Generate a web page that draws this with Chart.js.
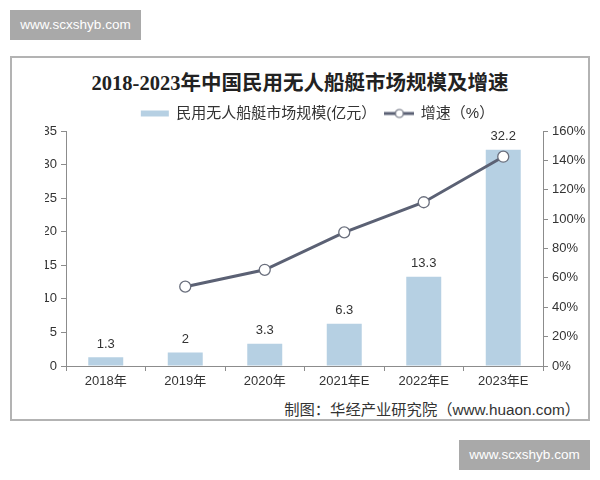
<!DOCTYPE html>
<html>
<head>
<meta charset="utf-8">
<script src="https://cdn.jsdelivr.net/npm/chart.js@4/dist/chart.umd.min.js"></script>
<style>
  html, body { margin: 0; padding: 0; background: #fff; }
  #wrap { position: relative; width: 600px; height: 480px; overflow: hidden; }
  #frame { position: absolute; left: 10px; top: 56px; width: 576px; height: 361px; border: 2px solid #b3b3b3; }
  .mark { position: absolute; width: 131px; height: 30px; background: #a9a9a9; color: #fff;
          font: 13.5px "Liberation Sans", Arial, sans-serif; line-height: 30px; text-align: center; }
  #title { position: absolute; left: 0; width: 600px; top: 70px; text-align: center; color: #222;
           font: bold 20.5px "Liberation Serif", "Noto Sans CJK SC", serif; line-height: 26px; white-space: nowrap; }
  #src { position: absolute; right: 20px; top: 397px; color: #333;
         font: 15.3px "Liberation Sans", "Noto Sans CJK SC", sans-serif; white-space: nowrap; }
  canvas { position: absolute; left: 0; top: 0; }
</style>
</head>
<body>
<div id="wrap">
  <div id="frame"></div>
  <div class="mark" style="left:10px;top:10px;">www.scxshyb.com</div>
  <div class="mark" style="left:459px;top:440px;">www.scxshyb.com</div>
  <div id="title">2018-2023年中国民用无人船艇市场规模及增速</div>
  <div id="src">制图：华经产业研究院（www.huaon.com）</div>
  <canvas id="cht" width="600" height="480"></canvas>
</div>
<script>
var years = ['2018年', '2019年', '2020年', '2021年E', '2022年E', '2023年E'];
var marketSize = [1.3, 2, 3.3, 6.3, 13.3, 32.2];
var growthRate = [null, 54, 65.5, 91, 111.5, 142.5];

var sansFont = '"Liberation Sans", "Noto Sans CJK SC", sans-serif';
var barColour = '#b6d0e3';
var lineColour = '#5b6174';

// little line-with-circle icon for the legend
var lineIcon = document.createElement('canvas');
lineIcon.width = 30; lineIcon.height = 12;
(function () {
    var c = lineIcon.getContext('2d');
    c.strokeStyle = lineColour; c.lineWidth = 3;
    c.beginPath(); c.moveTo(0, 6); c.lineTo(30, 6); c.stroke();
    c.fillStyle = '#fff'; c.strokeStyle = '#6a6f7d'; c.lineWidth = 1.2;
    c.beginPath(); c.arc(15, 6, 4, 0, Math.PI * 2); c.fill(); c.stroke();
})();

var barLabels = {
    id: 'barLabels',
    afterDatasetsDraw: function (chart) {
        var ctx = chart.ctx;
        var meta = chart.getDatasetMeta(0);
        ctx.save();
        ctx.font = '13px ' + sansFont;
        ctx.fillStyle = '#333';
        ctx.textAlign = 'center';
        ctx.textBaseline = 'middle';
        meta.data.forEach(function (bar, i) {
            ctx.fillText(String(marketSize[i]), bar.x, bar.y - 13);
        });
        ctx.restore();
    }
};

var axisGrid = { drawOnChartArea: false, drawTicks: true, tickLength: 5, color: '#8c8c8c' };
var axisBorder = { display: true, color: '#8c8c8c', width: 1 };
var tickFont = { family: sansFont, size: 13 };

new Chart(document.getElementById('cht'), {
    type: 'bar',
    data: {
        labels: years,
        datasets: [{
            label: '民用无人船艇市场规模(亿元）',
            data: marketSize,
            backgroundColor: barColour,
            borderWidth: 0,
            barPercentage: 0.44,
            categoryPercentage: 1,
            yAxisID: 'y',
            order: 1
        }, {
            type: 'line',
            label: '增速（%）',
            data: growthRate,
            borderColor: lineColour,
            borderWidth: 3,
            pointRadius: 5.5,
            pointBackgroundColor: '#fff',
            pointBorderColor: '#6a6f7d',
            pointBorderWidth: 1.3,
            tension: 0,
            yAxisID: 'y1',
            order: 0
        }]
    },
    plugins: [barLabels],
    options: {
        responsive: false,
        animation: false,
        // extra left padding pushes the legend right, like the original
        layout: { padding: { left: 45, right: 10, top: 97, bottom: 89 } },
        plugins: {
            tooltip: { enabled: false },
            title: { display: false },
            legend: {
                labels: {
                    usePointStyle: true,
                    pointStyleWidth: 28,
                    boxHeight: 6,
                    padding: 9,
                    color: '#333',
                    font: { family: sansFont, size: 15 },
                    sort: function (a, b) { return a.datasetIndex - b.datasetIndex; },
                    generateLabels: function (chart) {
                        var items = Chart.defaults.plugins.legend.labels.generateLabels(chart);
                        items.forEach(function (it) {
                            if (it.datasetIndex === 0) { it.pointStyle = 'rect'; it.lineWidth = 0; }
                            else { it.pointStyle = lineIcon; }
                        });
                        return items;
                    }
                }
            }
        },
        scales: {
            x: {
                grid: Object.assign({ offset: true }, axisGrid),
                border: axisBorder,
                ticks: { color: '#333', font: tickFont, maxRotation: 0, padding: 3 },
                afterFit: function (s) { s.height = 25; }
            },
            y: {
                position: 'left',
                min: 0, max: 35,
                ticks: { stepSize: 5, color: '#333', font: tickFont, padding: 4 },
                grid: axisGrid,
                border: axisBorder,
                afterFit: function (s) { s.width = 21; }
            },
            y1: {
                position: 'right',
                min: 0, max: 160,
                ticks: { stepSize: 20, color: '#333', font: tickFont, padding: 4,
                         callback: function (v) { return v + '%'; } },
                grid: axisGrid,
                border: axisBorder,
                afterFit: function (s) { s.width = 47; }
            }
        }
    }
});
</script>
</body>
</html>
